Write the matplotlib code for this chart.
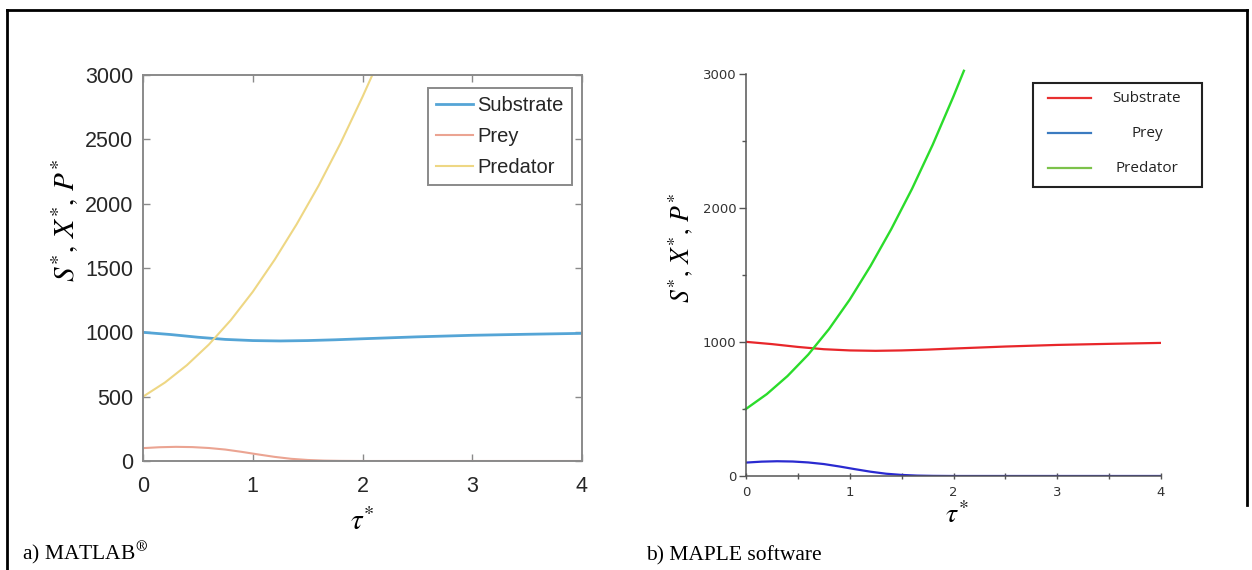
import matplotlib
matplotlib.use("Agg")
import matplotlib.pyplot as plt
from matplotlib.lines import Line2D
from matplotlib.patches import Rectangle

# ---------------- data ----------------
tau_pred = [0, 0.2, 0.4, 0.6, 0.8, 1.0, 1.2, 1.4, 1.6, 1.8, 2.0, 2.1]
predator = [500, 610, 745, 905, 1095, 1315, 1565, 1840, 2140, 2470, 2830, 3020]

tau_sub = [0, 0.25, 0.5, 0.75, 1.0, 1.25, 1.5, 1.75, 2.0, 2.5, 3.0, 3.5, 4.0]
substrate = [1000, 983, 962, 945, 936, 933, 936, 942, 950, 965, 977, 985, 992]

tau_prey = [0, 0.15, 0.3, 0.45, 0.6, 0.75, 0.9, 1.05, 1.2, 1.35, 1.5, 1.65, 1.8, 2.0, 2.5, 3.0, 4.0]
prey = [100, 107, 110, 108, 101, 89, 71, 51, 32, 17, 8, 3, 1, 0, 0, 0, 0]

series_names = ["Substrate", "Prey", "Predator"]
x_ticks = [0, 1, 2, 3, 4]
y_ticks_left = [0, 500, 1000, 1500, 2000, 2500, 3000]
y_ticks_right = [0, 1000, 2000, 3000]
y_minor_right = [500, 1500, 2500]
x_minor_right = [0.5, 1.5, 2.5, 3.5]

W, H = 1252, 570
plt.rcParams['mathtext.fontset'] = 'stix'

fig = plt.figure(figsize=(W / 100, H / 100), dpi=100)


def fx(x):
    return x / W


def fy(y):
    return 1 - y / H


def add_axes_px(left, top, right, bottom):
    return fig.add_axes([fx(left), fy(bottom), (right - left) / W, (bottom - top) / H])


# ---------------- left panel (MATLAB style) ----------------
axL = add_axes_px(143, 75, 582, 461)
colL = ['#55a5d6', '#eba492', '#eed784']
axL.plot(tau_sub, substrate, color=colL[0], lw=2.0, label=series_names[0])
axL.plot(tau_prey, prey, color=colL[1], lw=1.5, label=series_names[1])
axL.plot(tau_pred, predator, color=colL[2], lw=1.5, label=series_names[2])
axL.set_xlim(0, 4)
axL.set_ylim(0, 3000)
axL.set_xticks(x_ticks)
axL.set_yticks(y_ticks_left)
for s in axL.spines.values():
    s.set_color('#8a8a8a')
    s.set_linewidth(1.4)
axL.tick_params(direction='in', length=5, width=1, color='#8a8a8a',
                top=True, right=True, labelcolor='#262626', labelsize=15.5)
axL.tick_params(axis='y', pad=7)
axL.tick_params(axis='x', pad=11)
for lab in axL.get_xticklabels() + axL.get_yticklabels():
    lab.set_fontfamily('Liberation Sans')
axL.set_ylabel(r'$S^{*},\,X^{*},\,P^{*}$', fontsize=21, color='black')
axL.yaxis.set_label_coords(-0.178, 0.624)
axL.yaxis.label.set_va('center')
axL.set_xlabel(r'$\tau^{*}$', fontsize=21, color='black')
axL.xaxis.set_label_coords(0.5, -0.158)
axL.xaxis.label.set_va('center')
leg = axL.legend(loc='upper right', bbox_to_anchor=((572 - 143) / 439, (461 - 88) / 386),
                 borderaxespad=0.0,
                 prop={'family': 'Liberation Sans', 'size': 14.5},
                 handlelength=1.84, handletextpad=0.2, labelspacing=0.58,
                 borderpad=0.42, fancybox=False, framealpha=1, edgecolor='#8a8a8a')
leg.get_frame().set_linewidth(1.4)
for t in leg.get_texts():
    t.set_color('#262626')

# ---------------- right panel (MAPLE style) ----------------
axR = add_axes_px(746, 73.5, 1161, 476)
colR = ['#e8262a', '#2a2ad0', '#2bdc2b']
axR.plot(tau_sub, substrate, color=colR[0], lw=1.6)
axR.plot(tau_prey, prey, color=colR[1], lw=1.6)
axR.plot(tau_pred, predator, color=colR[2], lw=1.7, clip_on=False)
axR.set_xlim(0, 4)
axR.set_ylim(0, 3000)
axR.set_xticks(x_ticks)
axR.set_yticks(y_ticks_right)
axR.set_xticks(x_minor_right, minor=True)
axR.set_yticks(y_minor_right, minor=True)
axR.spines['top'].set_visible(False)
axR.spines['right'].set_visible(False)
for k in ('left', 'bottom'):
    axR.spines[k].set_color('#555555')
    axR.spines[k].set_linewidth(1.1)
axR.tick_params(axis='y', which='major', direction='out', length=5, width=1,
                color='#555555', labelsize=9.5, labelcolor='#333333', pad=2)
axR.tick_params(axis='y', which='minor', direction='out', length=3, width=1, color='#555555')
axR.tick_params(axis='x', which='major', direction='inout', length=5, width=1,
                color='#555555', labelsize=9.5, labelcolor='#333333', pad=5)
axR.tick_params(axis='x', which='minor', direction='inout', length=4, width=1, color='#555555')
for lab in axR.get_xticklabels() + axR.get_yticklabels():
    lab.set_fontfamily('DejaVu Sans')
axR.set_ylabel(r'$S^{*},\,X^{*},\,P^{*}$', fontsize=18.5, color='black')
axR.yaxis.set_label_coords(-0.157, 0.566)
axR.yaxis.label.set_va('center')
axR.set_xlabel(r'$\tau^{*}$', fontsize=20, color='black')
axR.xaxis.set_label_coords(0.508, -0.097)
axR.xaxis.label.set_va('center')

# manual MAPLE-style legend
fig.add_artist(Rectangle((fx(1033), fy(187)), (1202 - 1033) / W, (187 - 83) / H,
                         transform=fig.transFigure, facecolor='white',
                         edgecolor='#222222', lw=1.5))
leg_rows = [98, 133, 168]
leg_cols = ['#e83030', '#3b7bc0', '#7cc24a']
for name, yy, c in zip(series_names, leg_rows, leg_cols):
    fig.add_artist(Line2D([fx(1048), fx(1091)], [fy(yy), fy(yy)],
                          transform=fig.transFigure, color=c, lw=1.6))
    fig.text(fx(1147), fy(yy), name, ha='center', va='center',
             fontsize=11, family='Open Sans', color='#222222')

# ---------------- captions and frame ----------------
fig.text(fx(22), fy(560), r'a) MATLAB$^{\circledR}$', fontsize=15.5, family='Liberation Serif',
         ha='left', va='baseline', color='black')
fig.text(fx(646), fy(560), 'b) MAPLE software', fontsize=15.5, family='Liberation Serif',
         ha='left', va='baseline', color='black')

fig.add_artist(Line2D([fx(7), fx(7)], [fy(10), fy(570)], transform=fig.transFigure,
                      color='black', lw=2))
fig.add_artist(Line2D([fx(7), fx(1247)], [fy(10), fy(10)], transform=fig.transFigure,
                      color='black', lw=2))
fig.add_artist(Line2D([fx(1247), fx(1247)], [fy(10), fy(505)], transform=fig.transFigure,
                      color='black', lw=2))

fig.savefig('out.png', dpi=100)
